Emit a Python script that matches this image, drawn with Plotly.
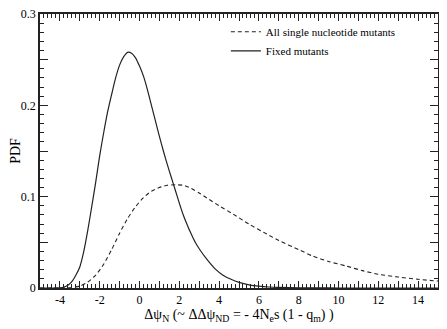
import plotly.graph_objects as go

# Fixed mutants (solid)
x_fixed = [-5, -4.5, -4, -3.8, -3.6, -3.4, -3.2, -3.0, -2.8, -2.6, -2.4, -2.2, -2.0,
           -1.8, -1.6, -1.4, -1.2, -1.0, -0.8, -0.6, -0.4, -0.2, 0, 0.2, 0.4, 0.6,
           0.8, 1.0, 1.2, 1.4, 1.6, 1.8, 2.0, 2.2, 2.4, 2.6, 2.8, 3.0, 3.4, 3.8,
           4.2, 4.6, 5.0, 5.5, 6.0, 6.5, 7.0, 8, 9, 10, 12, 15]
pdf_fixed = [0, 0, 0.0002, 0.001, 0.003, 0.007, 0.014, 0.023, 0.040, 0.063, 0.089,
             0.116, 0.145, 0.170, 0.193, 0.212, 0.230, 0.244, 0.253, 0.258, 0.257,
             0.252, 0.243, 0.232, 0.217, 0.200, 0.183, 0.166, 0.150, 0.135, 0.121,
             0.107, 0.093, 0.080, 0.069, 0.059, 0.050, 0.043, 0.031, 0.021, 0.014,
             0.0095, 0.0062, 0.0035, 0.002, 0.0011, 0.0006, 0.0002, 0.0001, 0, 0, 0]

# All single nucleotide mutants (dashed)
x_all = [-5, -4, -3.5, -3.0, -2.6, -2.2, -1.8, -1.4, -1.0, -0.6, -0.2, 0.2, 0.6,
         1.0, 1.4, 1.8, 2.2, 2.6, 3.0, 3.5, 4.0, 4.7, 5.5, 6.4, 7.0, 8.0, 8.7,
         9.5, 10.4, 11.2, 12, 13, 14, 15]
pdf_all = [0, 0, 0.0003, 0.002, 0.0065, 0.014, 0.026, 0.042, 0.060, 0.076, 0.089,
           0.099, 0.106, 0.110, 0.1125, 0.113, 0.1125, 0.109, 0.104, 0.097, 0.090,
           0.081, 0.070, 0.059, 0.052, 0.042, 0.035, 0.029, 0.024, 0.019, 0.015,
           0.012, 0.0095, 0.0076]

x_tickvals = list(range(-5, 16))
x_ticktext = [str(v) if v % 2 == 0 else "" for v in x_tickvals]
y_tickvals = [0, 0.05, 0.1, 0.15, 0.2, 0.25, 0.3]
y_ticktext = ["0", "", "0.1", "", "0.2", "", "0.3"]

serif = "Liberation Serif"
ink = "#222222"

fig = go.Figure()
fig.add_trace(go.Scatter(x=x_all, y=pdf_all, mode="lines", name="All single nucleotide mutants",
                         line=dict(color=ink, width=1.1, dash="4px,3px", shape="spline", smoothing=0.6)))
fig.add_trace(go.Scatter(x=x_fixed, y=pdf_fixed, mode="lines", name="Fixed mutants",
                         line=dict(color=ink, width=1.2, shape="spline", smoothing=0.6)))

axis_common = dict(showgrid=False, zeroline=False, linecolor=ink, linewidth=1.5, showline=True,
                   automargin=False, tickcolor=ink, tickwidth=1, ticklabeloverflow="allow",
                   tickfont=dict(family=serif, size=12, color="black"))

# page body keeps its default 8px margin, so margins are shifted to compensate
fig.update_layout(
    width=447, height=329,
    margin=dict(l=32, r=17, t=6, b=49),
    paper_bgcolor="white", plot_bgcolor="white",
    font=dict(family=serif, size=12, color="black"),
    showlegend=True,
    legend=dict(x=0.467, y=0.988, xanchor="left", yanchor="top", bgcolor="rgba(0,0,0,0)",
                font=dict(family=serif, size=11), itemwidth=30, tracegroupgap=0),
    xaxis=dict(range=[-5, 15], tickvals=x_tickvals, ticktext=x_ticktext, ticks="inside",
               ticklen=7, mirror="ticks",
               minor=dict(dtick=0.2, ticks="inside", ticklen=4, tickcolor=ink),
               title=dict(text="Δψ<sub>N</sub> (~ ΔΔψ<sub>ND</sub> = - 4N<sub>e</sub>s (1 - q<sub>m</sub>) )",
                          font=dict(family=serif, size=14), standoff=2),
               **axis_common),
    yaxis=dict(range=[0, 0.3], tickvals=y_tickvals, ticktext=y_ticktext, ticks="inside",
               ticklen=8, mirror="ticks",
               minor=dict(dtick=0.01, ticks="inside", ticklen=4, tickcolor=ink),
               title=dict(text="PDF", font=dict(family=serif, size=14), standoff=6),
               **axis_common),
)

fig.write_html("out.html")
